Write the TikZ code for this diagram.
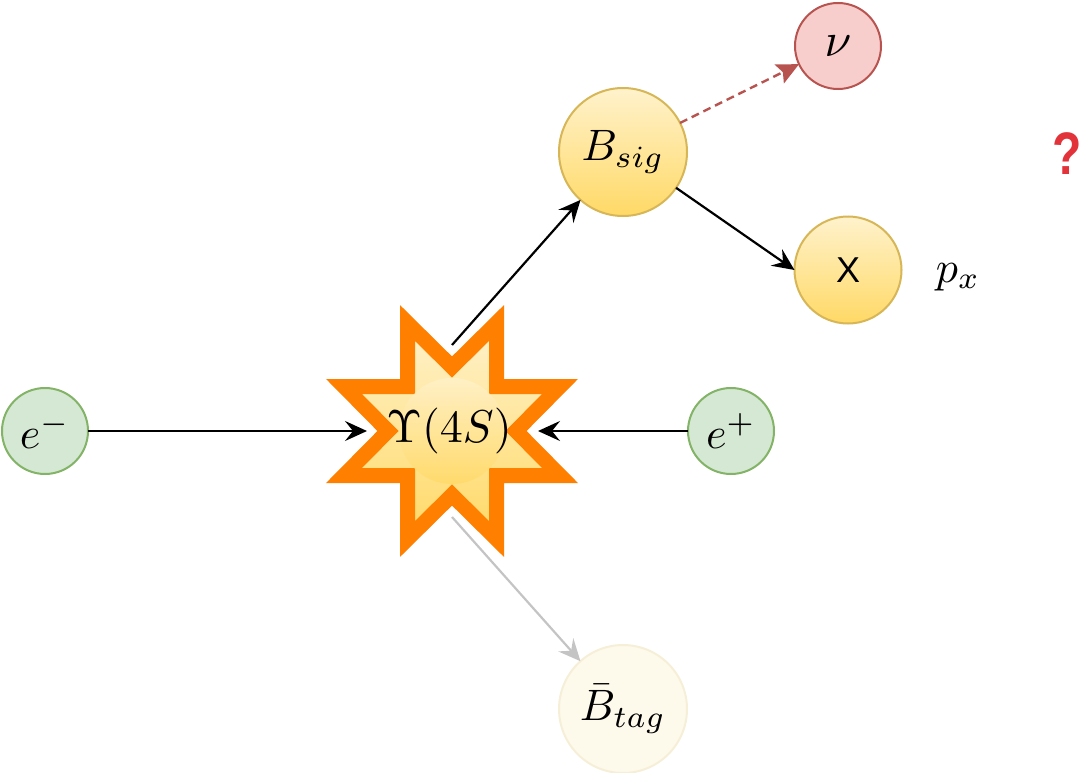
\documentclass[tikz,border=0pt]{standalone}
\usepackage[no-math]{fontspec}
\newfontfamily\labelsans{Liberation Sans}
\usetikzlibrary{arrows.meta}
\definecolor{goldtop}{HTML}{FFF2CC}
\definecolor{goldbot}{HTML}{FFD966}
\definecolor{goldline}{HTML}{D6B656}
\definecolor{greenfill}{HTML}{D5E8D4}
\definecolor{greenline}{HTML}{82B366}
\definecolor{redfill}{HTML}{F8CECC}
\definecolor{redline}{HTML}{B85450}
\definecolor{burst}{HTML}{FF8000}
\definecolor{tagfill}{HTML}{FDF9EB}
\definecolor{tagline}{HTML}{F6EFD8}
\definecolor{fadearrow}{HTML}{C4C4C4}
\definecolor{quest}{HTML}{E2333A}
\newcommand{\lblm}[1]{\scalebox{4.4}{$#1$}}
\tikzset{
  x=1pt,y=-1pt,
  ball/.style={circle,line width=2pt,inner sep=0pt,outer sep=0pt},
  goldball/.style={ball,draw=goldline,top color=goldtop,bottom color=goldbot},
  greenball/.style={ball,draw=greenline,fill=greenfill,minimum size=86pt},
  conn/.style={line width=2.2pt,-{Stealth[length=22pt,width=20pt,inset=8pt]},black},
  softconn/.style={line width=2.2pt,-{Stealth[length=22pt,width=20pt,inset=8pt]},fadearrow},
  dashconn/.style={line width=2.4pt,dash pattern=on 8pt off 5pt,-{Stealth[length=22pt,width=21pt,inset=4pt]},redline},
}
\begin{document}
\begin{tikzpicture}
\useasboundingbox (0,0) rectangle (1081,773);
% burst
\path[draw=burst,line width=15pt,miter limit=10,top color=goldtop,bottom color=goldbot,shift={(452,431)}]
  (0,-64) -- (44.5,-108) -- (44.5,-44.5) -- (108,-44.5) -- (64,0) -- (108,44.5) -- (44.5,44.5) -- (44.5,108)
  -- (0,64) -- (-44.5,108) -- (-44.5,44.5) -- (-108,44.5) -- (-64,0) -- (-108,-44.5) -- (-44.5,-44.5) -- (-44.5,-108) -- cycle;
\node[circle,minimum size=106pt,inner sep=0pt,top color=goldtop,bottom color=goldbot,fill opacity=0.75] (core) at (452,431) {};
\node[inner sep=0pt] (ups) at (449,431) {\scalebox{4.6}{$\Upsilon(4S)$}};
% particles
\node[greenball] (em) at (45,431) {\lblm{e^-}};
\node[greenball] (ep) at (731,431) {\lblm{e^+}};
\node[goldball,minimum size=128pt] (bsig) at (623,152) {\lblm{B_{sig}}};
\node[goldball,minimum size=107pt] (xp) at (848,270) {\labelsans\fontsize{36}{40}\selectfont X};
\node[ball,draw=redline,fill=redfill,minimum size=86pt] (nu) at (838,46) {\raisebox{-4pt}{\scalebox{4.8}{$\nu$}}};
\node[ball,draw=tagline,fill=tagfill,minimum size=128pt] (btag) at (623,709) {\lblm{\bar B_{tag}}};
\node[inner sep=0pt] (px) at (958,277) {\lblm{p_x}};
\node[inner sep=0pt,text=quest] (qm) at (1067,154) {\scalebox{0.8}[1]{\labelsans\bfseries\fontsize{60}{64}\selectfont ?}};
% connector ends at the burst
\coordinate (cw) at (367,431);
\coordinate (ce) at (538,431);
\coordinate (cn) at (452,345);
\coordinate (cs) at (452,517);
% connectors
\draw[conn] (em) -- (cw);
\draw[conn] (ep) -- (ce);
\draw[conn] (cn) -- (bsig);
\draw[softconn] (cs) -- (btag);
\draw[conn] (bsig.-34) -- (xp.west);
\draw[dashconn] (bsig.27) -- (nu.205);
\end{tikzpicture}
\end{document}
